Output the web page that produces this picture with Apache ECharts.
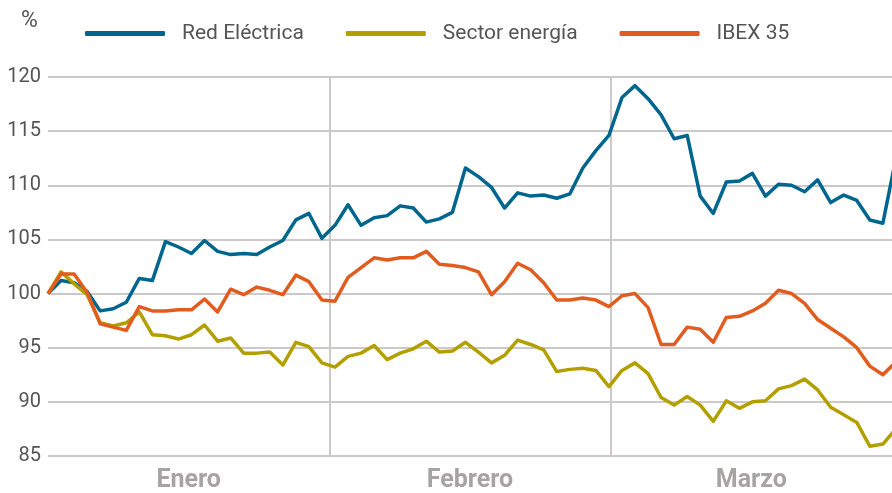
<!DOCTYPE html>
<html>
<head>
<meta charset="utf-8">
<script src="https://cdn.jsdelivr.net/npm/echarts@6/dist/echarts.min.js"></script>
<style>
html,body{margin:0;padding:0;background:#fff;}
#chart{width:892px;height:493px;}
</style>
</head>
<body>
<div id="chart"></div>
<script>
// meses (eje inferior)
var months = ['Enero', 'Febrero', 'Marzo'];
// series, base 100 (sesiones)
var redElectrica = [100, 101.2, 101.0, 100.2, 98.4, 98.6, 99.2, 101.4, 101.2, 104.8, 104.3, 103.7, 104.9, 103.9, 103.6, 103.7, 103.6, 104.3, 104.9, 106.8, 107.4, 105.1, 106.3, 108.2, 106.3, 107.0, 107.2, 108.1, 107.9, 106.6, 106.9, 107.5, 111.6, 110.8, 109.8, 107.9, 109.3, 109.0, 109.1, 108.8, 109.2, 111.6, 113.2, 114.6, 118.1, 119.2, 118.0, 116.5, 114.3, 114.6, 109.0, 107.4, 110.3, 110.4, 111.1, 109.0, 110.1, 110.0, 109.4, 110.5, 108.4, 109.1, 108.6, 106.8, 106.5, 112.5];
var sectorEnergia = [100, 102.0, 100.9, 99.9, 97.3, 97.0, 97.3, 98.3, 96.2, 96.1, 95.8, 96.2, 97.1, 95.6, 95.9, 94.5, 94.5, 94.6, 93.4, 95.5, 95.1, 93.6, 93.2, 94.2, 94.5, 95.2, 93.9, 94.5, 94.9, 95.6, 94.6, 94.7, 95.5, 94.6, 93.6, 94.3, 95.7, 95.3, 94.8, 92.8, 93.0, 93.1, 92.9, 91.4, 92.9, 93.6, 92.6, 90.4, 89.7, 90.5, 89.7, 88.2, 90.1, 89.4, 90.0, 90.1, 91.2, 91.5, 92.1, 91.1, 89.5, 88.8, 88.1, 85.9, 86.1, 87.5];
var ibex35 = [100, 101.8, 101.8, 100.1, 97.2, 96.9, 96.6, 98.8, 98.4, 98.4, 98.5, 98.5, 99.5, 98.3, 100.4, 99.9, 100.6, 100.3, 99.9, 101.7, 101.1, 99.4, 99.3, 101.5, 102.4, 103.3, 103.1, 103.3, 103.3, 103.9, 102.7, 102.6, 102.4, 102.0, 99.9, 101.1, 102.8, 102.2, 101.0, 99.4, 99.4, 99.6, 99.4, 98.8, 99.8, 100.0, 98.7, 95.3, 95.3, 96.9, 96.7, 95.5, 97.8, 97.9, 98.4, 99.1, 100.3, 100.0, 99.1, 97.6, 96.8, 96.0, 95.0, 93.3, 92.5, 93.7];

function pares(arr){
	return arr.map(function(v, i){ return [i, v]; });
}

var fuente = 'Roboto, "Noto Sans", sans-serif';
var chart = echarts.init(document.getElementById('chart'));

function linea(nombre, datos, color){
	return {
		name: nombre,
		type: 'line',
		xAxisIndex: 0,
		data: pares(datos),
		showSymbol: false,
		clip: true,
		color: color,
		lineStyle: {width: 3.5, color: color, join: 'round'}
	};
}

chart.setOption({
	animation: false,
	textStyle: {fontFamily: fuente},
	title: {
		text: '%',
		left: 16,
		top: 5,
		textStyle: {fontSize: 23, fontWeight: 'normal', color: '#555', fontFamily: fuente}
	},
	legend: {
		left: 80,
		top: 18,
		icon: 'roundRect',
		itemWidth: 80,
		itemHeight: 5,
		itemGap: 42,
		textStyle: {fontSize: 21, color: '#555', padding: [0, 0, 0, 12], fontFamily: fuente},
		data: ['Red Eléctrica', 'Sector energía', 'IBEX 35']
	},
	grid: {left: 48, right: 0, top: 77, bottom: 34},
	xAxis: [
		{
			type: 'value',
			min: 0,
			max: 64.7,
			show: false
		},
		{
			type: 'category',
			data: months,
			boundaryGap: true,
			position: 'bottom',
			axisLine: {show: false},
			axisTick: {show: false},
			axisLabel: {margin: 12, fontSize: 25, fontWeight: 'bold', color: '#a8a3a3', fontFamily: fuente},
			splitLine: {show: true, showMinLine: false, showMaxLine: false, lineStyle: {color: '#cdc9c9', width: 2}}
		}
	],
	yAxis: {
		type: 'value',
		min: 85,
		max: 120,
		interval: 5,
		axisLine: {show: false},
		axisTick: {show: false},
		axisLabel: {margin: 7, fontSize: 20, color: '#555', fontFamily: fuente},
		splitLine: {lineStyle: {color: '#cdc9c9', width: 2}}
	},
	series: [
		linea('Red Eléctrica', redElectrica, '#00668e'),
		linea('Sector energía', sectorEnergia, '#b3a000'),
		linea('IBEX 35', ibex35, '#e15c1e')
	]
});
</script>
</body>
</html>
